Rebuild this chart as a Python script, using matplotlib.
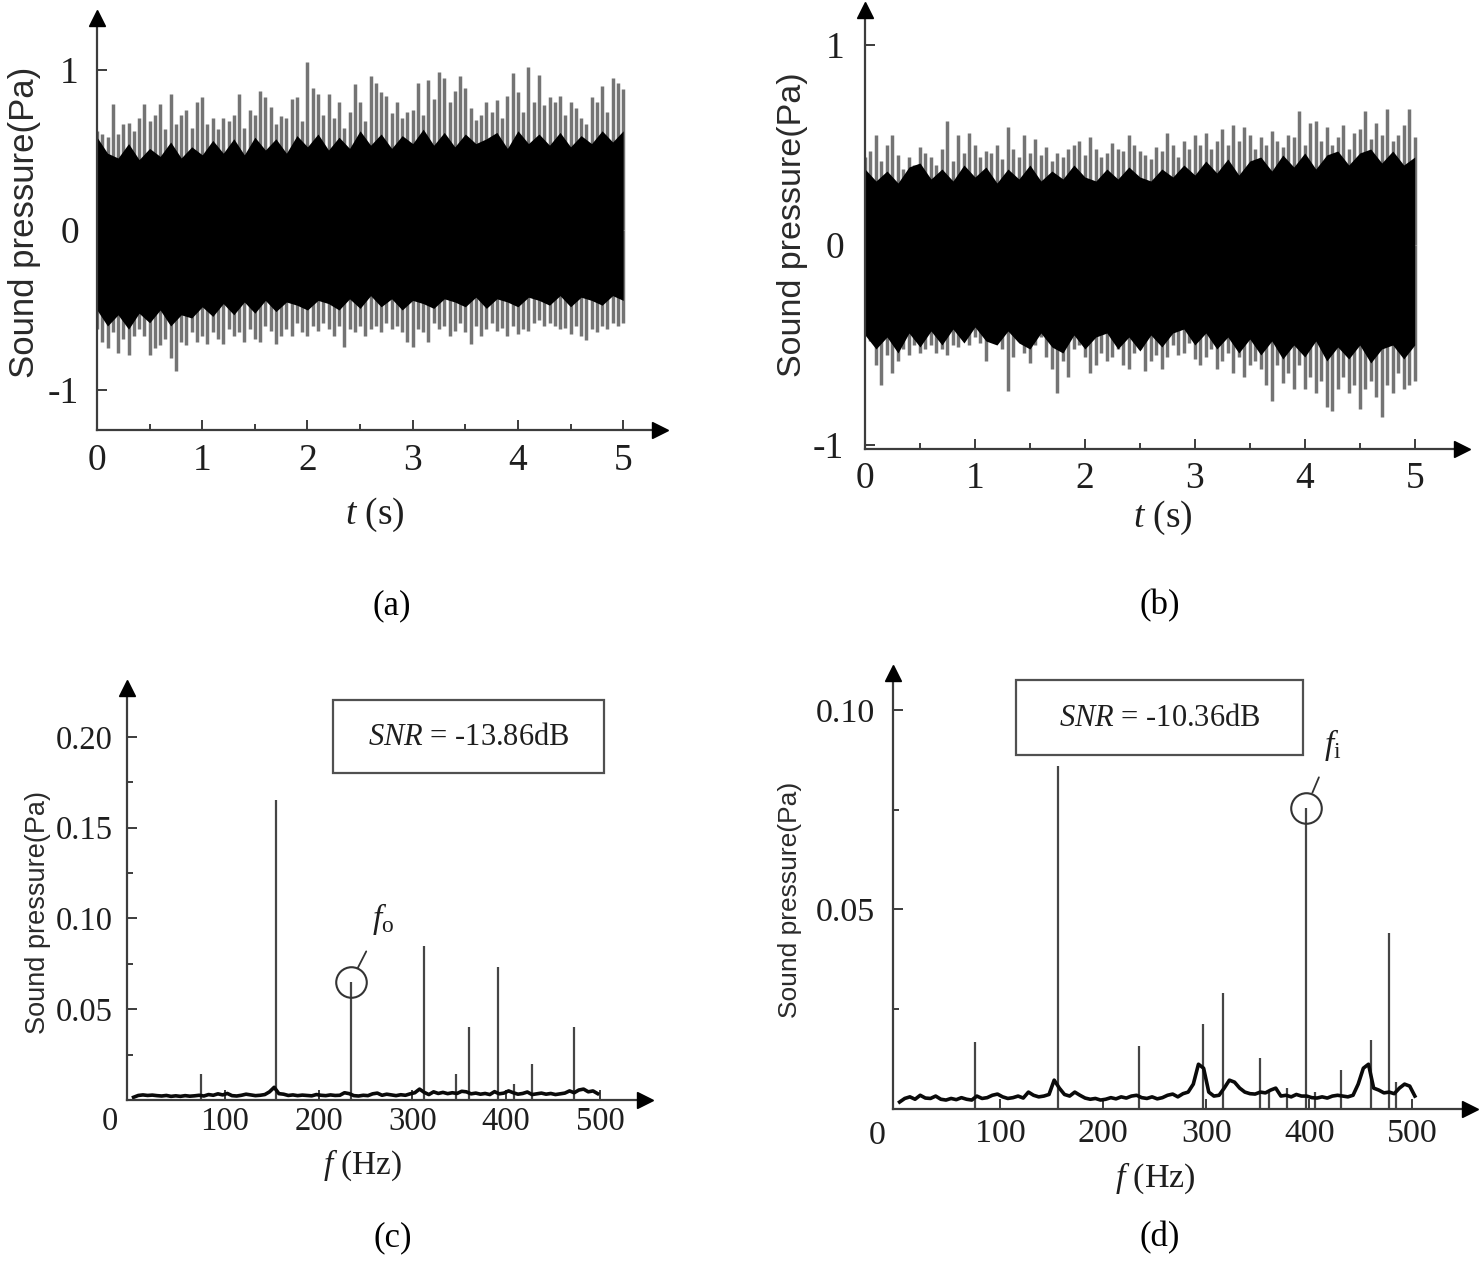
import numpy as np
import matplotlib
matplotlib.use("Agg")
import matplotlib.pyplot as plt
from matplotlib.ticker import FixedLocator
from matplotlib.patches import Rectangle

plt.rcParams['font.family'] = ['Liberation Serif', 'DejaVu Serif']
plt.rcParams['mathtext.fontset'] = 'custom'
plt.rcParams['mathtext.rm'] = 'Liberation Serif'
plt.rcParams['mathtext.it'] = 'Liberation Serif:italic'

# ---------------- data ----------------
# time-domain signals: spike tips every 0.05 s, dense core envelope every 0.1 s
tip_step = 0.05
core_step = 0.1

up_tips_a = [0.62,0.60,0.58,0.79,0.60,0.66,0.67,0.62,0.70,0.79,
             0.68,0.72,0.79,0.63,0.85,0.66,0.72,0.75,0.64,0.80,
             0.83,0.66,0.70,0.63,0.70,0.68,0.72,0.85,0.64,0.75,
             0.72,0.87,0.83,0.77,0.66,0.71,0.70,0.82,0.83,0.68,
             1.05,0.89,0.85,0.72,0.85,0.70,0.80,0.64,0.74,0.91,
             0.80,0.68,0.96,0.92,0.86,0.84,0.73,0.80,0.70,0.74,
             0.75,0.92,0.72,0.94,0.82,0.99,0.95,0.80,0.87,0.96,
             0.89,0.76,0.69,0.72,0.80,0.74,0.81,0.70,0.84,0.98,
             0.86,0.74,1.02,0.80,0.97,0.78,0.83,0.80,0.84,0.72,
             0.80,0.76,0.70,0.66,0.83,0.80,0.90,0.74,0.95,0.92,
             0.88]
lo_tips_a = [-0.62,-0.70,-0.74,-0.64,-0.77,-0.68,-0.78,-0.66,-0.62,-0.66,
             -0.78,-0.74,-0.72,-0.68,-0.80,-0.88,-0.70,-0.72,-0.64,-0.70,
             -0.66,-0.71,-0.64,-0.68,-0.71,-0.62,-0.66,-0.64,-0.70,-0.62,
             -0.68,-0.70,-0.60,-0.63,-0.71,-0.66,-0.62,-0.66,-0.58,-0.64,
             -0.66,-0.60,-0.63,-0.58,-0.62,-0.66,-0.60,-0.73,-0.62,-0.64,
             -0.60,-0.66,-0.62,-0.60,-0.64,-0.58,-0.62,-0.60,-0.64,-0.70,
             -0.73,-0.62,-0.64,-0.70,-0.58,-0.62,-0.60,-0.66,-0.63,-0.58,
             -0.64,-0.71,-0.60,-0.66,-0.62,-0.58,-0.63,-0.61,-0.66,-0.60,
             -0.65,-0.62,-0.63,-0.58,-0.56,-0.60,-0.58,-0.60,-0.62,-0.61,
             -0.65,-0.60,-0.66,-0.69,-0.62,-0.64,-0.60,-0.62,-0.58,-0.60,
             -0.58]
core_up_a = [0.58,0.48,0.45,0.54,0.44,0.51,0.46,0.55,0.45,0.52,
             0.47,0.56,0.48,0.57,0.47,0.58,0.50,0.57,0.48,0.59,
             0.52,0.60,0.50,0.58,0.51,0.62,0.53,0.60,0.51,0.59,
             0.54,0.63,0.53,0.61,0.52,0.60,0.54,0.57,0.61,0.51,
             0.62,0.54,0.60,0.53,0.61,0.52,0.59,0.54,0.62,0.55,
             0.62]
core_lo_a = [-0.50,-0.60,-0.53,-0.62,-0.52,-0.58,-0.50,-0.60,-0.53,-0.55,
             -0.48,-0.54,-0.46,-0.53,-0.45,-0.52,-0.44,-0.51,-0.45,-0.47,
             -0.50,-0.44,-0.46,-0.50,-0.43,-0.49,-0.41,-0.48,-0.43,-0.50,
             -0.44,-0.46,-0.49,-0.43,-0.45,-0.48,-0.42,-0.49,-0.43,-0.45,
             -0.48,-0.42,-0.44,-0.47,-0.41,-0.48,-0.42,-0.44,-0.47,-0.41,
             -0.44]

up_tips_b = [0.44,0.47,0.55,0.42,0.50,0.55,0.45,0.38,0.44,0.40,
             0.49,0.46,0.44,0.40,0.48,0.62,0.42,0.55,0.46,0.56,
             0.50,0.44,0.47,0.46,0.50,0.43,0.59,0.48,0.44,0.55,
             0.46,0.53,0.45,0.49,0.42,0.46,0.44,0.48,0.50,0.52,
             0.45,0.54,0.48,0.44,0.46,0.51,0.48,0.47,0.55,0.50,
             0.47,0.45,0.43,0.49,0.47,0.56,0.50,0.44,0.52,0.48,
             0.55,0.50,0.56,0.48,0.52,0.58,0.50,0.60,0.52,0.59,
             0.55,0.48,0.54,0.50,0.57,0.52,0.49,0.55,0.54,0.67,
             0.50,0.61,0.62,0.52,0.59,0.50,0.54,0.60,0.48,0.56,
             0.58,0.67,0.53,0.61,0.55,0.68,0.52,0.55,0.60,0.68,
             0.54]
lo_tips_b = [-0.42,-0.48,-0.60,-0.70,-0.55,-0.64,-0.58,-0.52,-0.55,-0.50,
             -0.54,-0.52,-0.50,-0.54,-0.52,-0.55,-0.50,-0.51,-0.47,-0.50,
             -0.46,-0.49,-0.58,-0.48,-0.44,-0.52,-0.73,-0.56,-0.48,-0.54,
             -0.59,-0.50,-0.46,-0.56,-0.62,-0.74,-0.58,-0.66,-0.52,-0.50,
             -0.56,-0.64,-0.60,-0.54,-0.58,-0.56,-0.52,-0.60,-0.62,-0.54,
             -0.52,-0.63,-0.58,-0.55,-0.62,-0.56,-0.50,-0.55,-0.54,-0.49,
             -0.57,-0.60,-0.56,-0.52,-0.62,-0.58,-0.54,-0.64,-0.56,-0.66,
             -0.60,-0.58,-0.62,-0.70,-0.78,-0.60,-0.69,-0.64,-0.72,-0.60,
             -0.72,-0.66,-0.74,-0.68,-0.81,-0.83,-0.72,-0.66,-0.74,-0.70,
             -0.82,-0.72,-0.68,-0.76,-0.86,-0.70,-0.74,-0.64,-0.72,-0.70,
             -0.68]
core_up_b = [0.38,0.32,0.37,0.31,0.39,0.41,0.33,0.38,0.32,0.40,
             0.34,0.39,0.31,0.38,0.33,0.40,0.32,0.37,0.33,0.40,
             0.34,0.32,0.38,0.33,0.39,0.34,0.32,0.38,0.34,0.40,
             0.35,0.42,0.36,0.43,0.35,0.42,0.44,0.37,0.45,0.39,
             0.46,0.38,0.45,0.47,0.40,0.46,0.48,0.41,0.47,0.40,
             0.44]
core_lo_b = [-0.45,-0.52,-0.46,-0.54,-0.44,-0.51,-0.43,-0.50,-0.42,-0.49,
             -0.41,-0.48,-0.50,-0.43,-0.49,-0.52,-0.44,-0.51,-0.54,-0.45,
             -0.52,-0.46,-0.44,-0.52,-0.46,-0.53,-0.45,-0.51,-0.44,-0.42,
             -0.50,-0.44,-0.52,-0.46,-0.54,-0.47,-0.55,-0.48,-0.57,-0.50,
             -0.56,-0.48,-0.58,-0.51,-0.57,-0.50,-0.59,-0.52,-0.50,-0.57,
             -0.50]

# spectra: noise floor every 5 Hz (values in mPa) and discrete peaks (Pa)
floor_start_c = 2.5
floor_c = [1.5,2.5,2.8,2.5,2.7,2.4,2.2,2.5,2.0,2.3,
           2.0,2.4,2.1,2.3,2.6,2.2,3.0,2.6,3.4,2.8,
           3.6,2.4,2.2,2.6,3.2,2.8,2.4,2.6,3.0,4.5,
           7.0,3.5,3.2,2.5,2.8,2.4,2.7,2.5,2.3,3.0,
           2.6,2.4,2.8,2.5,2.6,4.0,3.5,2.4,2.2,2.6,
           2.4,3.4,3.8,2.6,3.2,2.8,2.4,2.9,2.6,3.4,
           4.0,6.0,4.2,3.0,4.5,3.6,4.2,3.5,4.0,3.6,
           4.8,4.5,3.4,3.8,3.2,3.6,3.0,4.6,3.4,3.8,
           5.0,4.0,3.2,3.6,4.4,3.0,3.4,3.8,3.2,3.6,
           3.0,3.4,3.8,5.0,4.0,5.5,6.0,4.5,5.0,3.5]
peak_f_c = [74, 154, 234, 312, 346, 360, 391, 408, 427, 472]
peak_h_c = [0.0145, 0.165, 0.065, 0.085, 0.0143, 0.040, 0.073, 0.0088, 0.020, 0.040]
fo_index = 2

floor_start_d = 2.5
floor_d = [1.5,2.4,2.8,2.2,3.2,2.5,2.4,3.0,2.2,2.0,
           2.4,2.1,2.6,2.2,2.0,3.0,2.4,2.6,3.2,3.5,
           2.8,2.4,2.6,3.0,2.5,4.0,3.2,2.8,3.0,3.4,
           7.0,5.0,3.4,3.0,4.0,3.2,2.5,2.2,2.4,2.0,
           2.2,2.6,2.3,2.8,2.5,3.0,3.2,2.6,2.4,2.8,
           2.3,2.6,3.2,3.5,2.8,3.6,4.0,6.0,11.0,10.0,
           4.0,3.0,3.2,5.0,7.0,6.5,5.0,4.0,3.6,3.5,
           4.0,3.8,4.5,5.0,3.0,3.2,2.8,3.4,3.0,3.0,
           2.6,2.5,2.8,2.5,3.0,3.2,3.0,2.8,3.2,6.0,
           10.0,11.0,5.0,4.5,3.8,4.0,3.6,5.0,6.0,5.5,
           3.0]
peak_f_d = [76, 156, 235, 297, 316, 352, 361, 378, 397, 406, 431, 460, 477, 484]
peak_h_d = [0.0165, 0.086, 0.0155, 0.021, 0.029, 0.0125, 0.0045, 0.005, 0.0755,
            0.004, 0.0095, 0.017, 0.044, 0.0065]
fi_index = 8

snr_c = "-13.86dB"
snr_d = "-10.36dB"
panel_labels = ["(a)", "(b)", "(c)", "(d)"]

# ---------------- figure ----------------
W, H = 1479, 1266
fig = plt.figure(figsize=(W / 100, H / 100), dpi=100)

def px(x, y):
    return x / W, 1 - y / H

def add_ax(l, r, t, b):
    return fig.add_axes([l / W, 1 - b / H, (r - l) / W, (b - t) / H])

AX_COL = '#3c3c3c'
TXT_COL = '#1e1e1e'

def style(ax):
    ax.patch.set_alpha(0)
    for s in ['top', 'right']:
        ax.spines[s].set_visible(False)
    for s in ['left', 'bottom']:
        ax.spines[s].set_color(AX_COL)
        ax.spines[s].set_linewidth(1.6)
        ax.spines[s].set_zorder(5)
    ax.plot(1, 0, marker='>', ms=11, color='k', transform=ax.transAxes, clip_on=False, zorder=6)
    ax.plot(0, 1, marker='^', ms=11, color='k', transform=ax.transAxes, clip_on=False, zorder=6)
    ax.tick_params(which='both', direction='in', color=AX_COL, labelcolor=TXT_COL, width=1.4)
    ax.tick_params(which='major', length=7)
    ax.tick_params(which='minor', length=4)

# ---- time-domain panels
def time_panel(ax, up_tips, lo_tips, core_up, core_lo, fs_tick, ypad, xpad):
    t_tip = np.arange(len(up_tips)) * tip_step
    t_core = np.arange(len(core_up)) * core_step
    ax.vlines(t_tip, 0, up_tips, color='#747474', lw=2.5, zorder=1)
    ax.vlines(t_tip, 0, lo_tips, color='#747474', lw=2.5, zorder=1)
    ax.fill_between(t_core, core_lo, core_up, color='k', lw=0, zorder=2)
    style(ax)
    ax.set_xticks([0, 1, 2, 3, 4, 5])
    ax.xaxis.set_minor_locator(FixedLocator([0.5, 1.5, 2.5, 3.5, 4.5]))
    ax.set_yticks([-1, 0, 1])
    ax.set_yticklabels(['-1', '0', '1'])
    ax.tick_params(axis='both', labelsize=fs_tick)
    ax.tick_params(axis='y', pad=ypad)
    ax.tick_params(axis='x', pad=xpad)

ax_a = add_ax(97, 660, 18, 430)
ax_a.set_xlim(0, 5.35)
ax_a.set_ylim(-1.25, 1.325)
time_panel(ax_a, up_tips_a, lo_tips_a, core_up_a, core_lo_a, 27, 13, 10)

ax_b = add_ax(865, 1462, 10, 449)
ax_b.set_xlim(0, 5.43)
ax_b.set_ylim(-1.02, 1.175)
time_panel(ax_b, up_tips_b, lo_tips_b, core_up_b, core_lo_b, 27, 15, 9)

# ---- spectrum panels
def spec_panel(ax, floor, f0, pf, ph, fs_tick, ypad, xpad):
    ff = f0 + 5 * np.arange(len(floor))
    ax.plot(ff, np.array(floor) * 1e-3, color='#0a0a0a', lw=2.6, zorder=3)
    ax.vlines(pf, 0, ph, color='#454545', lw=1.6, zorder=2)
    style(ax)
    ax.set_xticks([100, 200, 300, 400, 500])
    ax.tick_params(axis='both', labelsize=fs_tick)
    ax.tick_params(axis='y', pad=ypad)
    ax.tick_params(axis='x', pad=xpad)

ax_c = add_ax(127, 645, 688, 1100)
ax_c.set_xlim(-4.5, 548)
ax_c.set_ylim(0, 0.2269)
spec_panel(ax_c, floor_c, floor_start_c, peak_f_c, peak_h_c, 23.5, 10, 5)
ax_c.set_yticks([0.05, 0.10, 0.15, 0.20])
ax_c.set_yticklabels(['0.05', '0.10', '0.15', '0.20'])
ax_c.yaxis.set_minor_locator(FixedLocator([0.025, 0.075, 0.125, 0.175]))

ax_d = add_ax(893, 1470, 673, 1109)
ax_d.set_xlim(-3.9, 556)
ax_d.set_ylim(-0.00025, 0.1093)
spec_panel(ax_d, floor_d, floor_start_d, peak_f_d, peak_h_d, 24.5, 13, 7)
ax_d.set_yticks([0.05, 0.10])
ax_d.set_yticklabels(['0.05', '0.10'])
ax_d.yaxis.set_minor_locator(FixedLocator([0.025, 0.075]))

# circled characteristic peaks with labels
for ax, pfx, phx, idx, lab, off in [(ax_c, peak_f_c, peak_h_c, fo_index, r'$f_{\mathrm{o}}$', (23, 45)),
                                    (ax_d, peak_f_d, peak_h_d, fi_index, r'$f_{\mathrm{i}}$', (19, 45))]:
    ax.plot(pfx[idx], phx[idx], 'o', ms=22, mfc='none', mec='#333333', mew=1.5, zorder=4)
    ax.annotate(lab, xy=(pfx[idx], phx[idx]), xytext=off, textcoords='offset points',
                fontsize=24, ha='center', va='center', color=TXT_COL,
                arrowprops=dict(arrowstyle='-', color='#333333', lw=1.3,
                                shrinkA=9, shrinkB=11.5))

# SNR boxes
for (x0, y0, x1, y1), snr in [((333, 700, 604, 773), snr_c), ((1016, 680, 1303, 755), snr_d)]:
    fig.add_artist(Rectangle(px(x0, y1), (x1 - x0) / W, (y1 - y0) / H, transform=fig.transFigure,
                             fill=True, fc='white', ec='#505050', lw=1.6, zorder=10))
    fig.text(*px((x0 + x1) / 2, (y0 + y1) / 2 + 1), r'$SNR$ = ' + snr, fontsize=22,
             ha='center', va='center', color=TXT_COL, zorder=11)

# the offset "0" labels on the spectrum x axes
fig.text(*px(110, 1122), '0', fontsize=23.5, ha='center', va='center', color=TXT_COL)
fig.text(*px(877, 1136), '0', fontsize=24.5, ha='center', va='center', color=TXT_COL)

# axis labels
ylab_kw = dict(rotation=90, ha='center', va='center', color='#2a2a2a',
               family=['Liberation Sans', 'DejaVu Sans'])
fig.text(*px(25, 222), 'Sound pressure(Pa)', fontsize=25, **ylab_kw)
fig.text(*px(792, 225), 'Sound pressure(Pa)', fontsize=24.5, **ylab_kw)
fig.text(*px(38, 912), 'Sound pressure(Pa)', fontsize=19.5, **ylab_kw)
fig.text(*px(790, 900), 'Sound pressure(Pa)', fontsize=19, **ylab_kw)

xlab_kw = dict(ha='center', va='center', color=TXT_COL)
fig.text(*px(375, 515), r'$t$ (s)', fontsize=27, **xlab_kw)
fig.text(*px(1163, 518), r'$t$ (s)', fontsize=27, **xlab_kw)
fig.text(*px(363, 1165), r'$f$ (Hz)', fontsize=24, **xlab_kw)
fig.text(*px(1155, 1178), r'$f$ (Hz)', fontsize=24.5, **xlab_kw)

# panel letters
for (x, y), lab in zip([(392, 606), (1160, 606), (393, 1238), (1160, 1238)], panel_labels):
    fig.text(*px(x, y), lab, fontsize=25, ha='center', va='center', color='k')

fig.savefig('out.png', dpi=100, facecolor='white')
